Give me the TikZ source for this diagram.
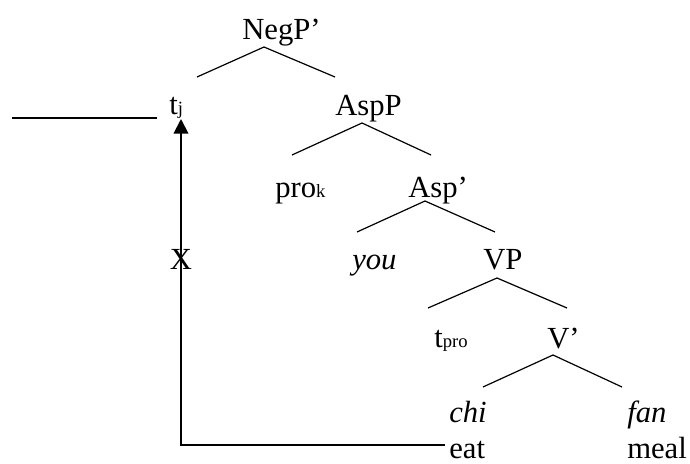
\documentclass[tikz,border=0pt]{standalone}
\usepackage{fontspec}
\setmainfont{Liberation Serif}
\usetikzlibrary{arrows.meta}
% smaller text used for indices
\newcommand\idx[1]{{\fontsize{14}{14}\selectfont #1}}
\begin{document}
\begin{tikzpicture}[x=0.75pt,y=-0.75pt,
  lbl/.style={inner sep=0pt, anchor=base west, font=\fontsize{23}{27}\selectfont},
  branch/.style={line width=0.9pt},
  bar/.style={line width=1.4pt},
  move/.style={line width=1.4pt, -{Triangle[length=11pt,width=11pt]}}]
\useasboundingbox (0,0) rectangle (690,464);

% labels
\node[lbl] (negp) at (242,39) {NegP’};
\node[lbl] (tj)   at (169,114) {t\idx{j}};
\node[lbl] (aspp) at (335,115) {AspP};
\node[lbl] (prok) at (275,197) {pro\idx{k}};
\node[lbl] (asp)  at (408,197) {Asp’};
\node[lbl, anchor=base] (x) at (181,269) {X};
\node[lbl] (you)  at (352,269) {\itshape you};
\node[lbl] (vp)   at (483,269) {VP};
\node[lbl] (tpro) at (434,347) {t\idx{pro}};
\node[lbl] (vbar) at (547,348) {V’};
\node[lbl] (chi)  at (449,422) {\itshape chi};
\node[lbl] (fan)  at (627,422) {\itshape fan};
\node[lbl] (eat)  at (449,458) {eat};
\node[lbl] (meal) at (627,458) {meal};

% branch points
\coordinate (negp-t) at (264,47);  \coordinate (negp-l) at (197,77);  \coordinate (negp-r) at (335,77);
\coordinate (aspp-t) at (362,123); \coordinate (aspp-l) at (292,155); \coordinate (aspp-r) at (431,155);
\coordinate (asp-t)  at (425,201); \coordinate (asp-l)  at (357,232); \coordinate (asp-r)  at (495,232);
\coordinate (vp-t)   at (497,278); \coordinate (vp-l)   at (428,308); \coordinate (vp-r)   at (567,308);
\coordinate (vbar-t) at (553,355); \coordinate (vbar-l) at (483,387); \coordinate (vbar-r) at (622,387);

\draw[branch] (negp-l) -- (negp-t) -- (negp-r);
\draw[branch] (aspp-l) -- (aspp-t) -- (aspp-r);
\draw[branch] (asp-l)  -- (asp-t)  -- (asp-r);
\draw[branch] (vp-l)   -- (vp-t)   -- (vp-r);
\draw[branch] (vbar-l) -- (vbar-t) -- (vbar-r);

% blank line before the trace
\coordinate (bar-l) at (12,118); \coordinate (bar-r) at (157,118);
\draw[bar] (bar-l) -- (bar-r);

% movement of the verb up to the trace
\coordinate (eat-in) at (445,445); \coordinate (tj-foot) at (181,119);
\draw[move] (eat-in) -| (tj-foot);
\end{tikzpicture}
\end{document}
